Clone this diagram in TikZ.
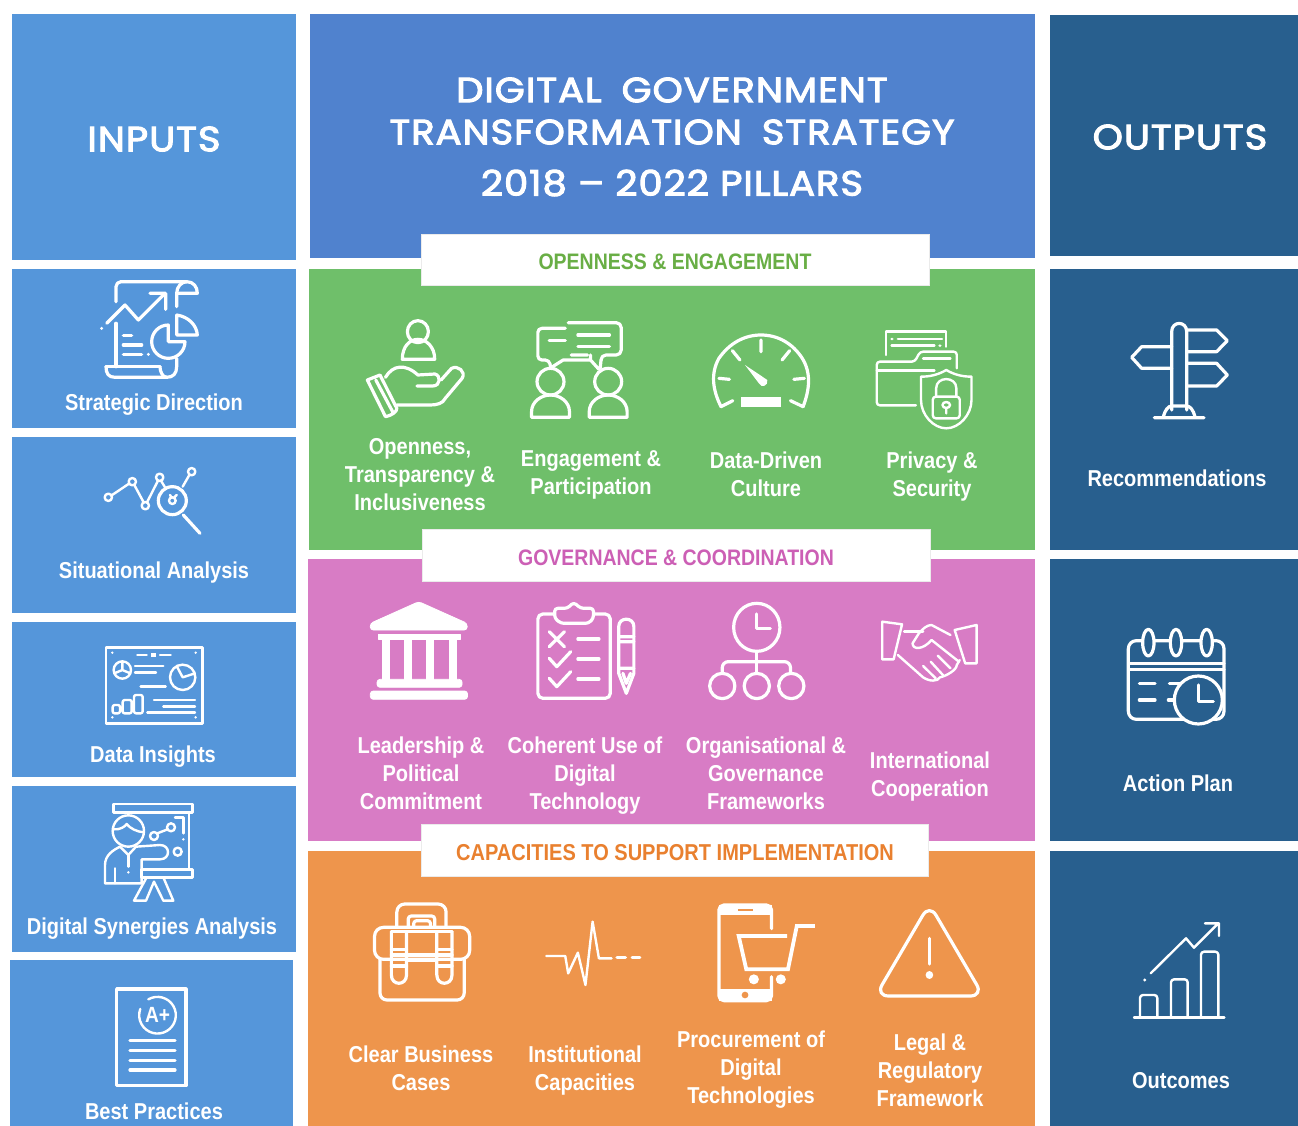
\documentclass[tikz,border=0pt]{standalone}
\usepackage{fontspec}
\newfontfamily\lblfont[FakeStretch=0.87]{Liberation Sans}
\newfontfamily\titlefont[FakeStretch=1.10,LetterSpace=2.8,FakeBold=3]{Poppins}
\definecolor{inblue}{HTML}{5596DA}
\definecolor{headblue}{HTML}{5082CE}
\definecolor{outblue}{HTML}{285F8E}
\definecolor{pillgreen}{HTML}{6FBF6A}
\definecolor{pillpink}{HTML}{D87CC5}
\definecolor{pillorange}{HTML}{EE954C}
\definecolor{txtgreen}{HTML}{69AE45}
\definecolor{txtpink}{HTML}{CC5FB5}
\definecolor{txtorange}{HTML}{E9802F}
\tikzset{
  lbl/.style={text=white,align=center,inner sep=0pt,font=\lblfont\bfseries\fontsize{23}{28}\selectfont},
  bigtitle/.style={text=white,inner sep=0pt,font=\titlefont\fontsize{35}{40}\selectfont},
  tabtext/.style={inner sep=0pt,font=\lblfont\bfseries\fontsize{22.4}{28}\selectfont},
  whitetab/.style={fill=white,draw=black!8,line width=.6pt},
  ico/.style={draw=white,line width=3.2pt,line cap=round,line join=round},
  thinico/.style={draw=white,line width=2.4pt,line cap=round,line join=round},
  solid white/.style={fill=white,draw=white,line width=.8pt,line join=round}
}
\begin{document}
\begin{tikzpicture}[x=1pt,y=-1pt]
\useasboundingbox (0,0) rectangle (1298,1126);

% left column
\fill[inblue] (12,14) rectangle (296,260);
\fill[inblue] (12,269) rectangle (296,428);
\fill[inblue] (12,437) rectangle (296,613);
\fill[inblue] (12,622) rectangle (296,777);
\fill[inblue] (12,786) rectangle (296,952);
\fill[inblue] (10,960) rectangle (293,1126);
% pillars
\fill[headblue] (310,14) rectangle (1035,258);
\fill[pillgreen] (309,269) rectangle (1035,550);
\fill[pillpink] (308,559) rectangle (1035,841);
\fill[pillorange] (308,851) rectangle (1035,1126);
% right column
\fill[outblue] (1050,15) rectangle (1298,256);
\fill[outblue] (1050,269) rectangle (1298,550);
\fill[outblue] (1050,559) rectangle (1298,841);
\fill[outblue] (1050,851) rectangle (1298,1126);
% tabs
\draw[whitetab] (421,234) rectangle (929,285);
\draw[whitetab] (422,529) rectangle (930,581);
\draw[whitetab] (421,824) rectangle (928,876);

\node[bigtitle] (inputs) at (154,139) {INPUTS};
\node[bigtitle] (outputs) at (1180,137) {OUTPUTS};
\node[bigtitle] (titleA) at (672,90) {DIGITAL\hspace{.25em} GOVERNMENT};
\node[bigtitle] (titleB) at (672,132) {TRANSFORMATION\hspace{.25em} STRATEGY};
\node[bigtitle] (titleC) at (672,183) {2018 – 2022 PILLARS};

\node[tabtext,text=txtgreen] (openness) at (675,262) {OPENNESS \& ENGAGEMENT};
\node[tabtext,text=txtpink] (governance) at (676,558) {GOVERNANCE \& COORDINATION};
\node[tabtext,text=txtorange,font=\lblfont\bfseries\fontsize{23}{28}\selectfont] (capacities) at (675,853) {CAPACITIES TO SUPPORT IMPLEMENTATION};

\node[lbl] (strategic) at (154,405) {Strategic Direction};
\node[lbl] (situational) at (154,573) {Situational Analysis};
\node[lbl] (insights) at (153,757) {Data Insights};
\node[lbl] (synergies) at (152,929) {Digital Synergies Analysis};
\node[lbl] (practices) at (154,1111) {Best Practices};

\node[lbl] (transparency) at (420,475) {Openness,\\Transparency \&\\Inclusiveness};
\node[lbl] (engagement) at (591,475) {Engagement \&\\Participation};
\node[lbl] (datadriven) at (766,474) {Data-Driven\\Culture};
\node[lbl] (privacy) at (932,477) {Privacy \&\\Security};

\node[lbl] (leadership) at (421,773) {Leadership \&\\Political\\Commitment};
\node[lbl] (coherent) at (585,776) {Coherent Use of\\Digital\\Technology};
\node[lbl] (organisational) at (766,773) {Organisational \&\\Governance\\Frameworks};
\node[lbl] (international) at (930,776.5) {International\\Cooperation};

\node[lbl] (business) at (421,1068) {Clear Business\\Cases};
\node[lbl] (institutional) at (585,1071) {Institutional\\Capacities};
\node[lbl] (procurement) at (751,1070) {Procurement of\\Digital\\Technologies};
\node[lbl] (legal) at (930,1070) {Legal \&\\Regulatory\\Framework};

\node[lbl] (recommendations) at (1177,478) {Recommendations};
\node[lbl] (actionplan) at (1178,783) {Action Plan};
\node[lbl] (outcomes) at (1181,1081) {Outcomes};

% icons of the left column
\begin{scope}[shift={(0,260)},scale=1/3]
\draw[ico,rounded corners=5pt] (348,125) -- (348,65) -- (560,65);
\draw[ico] (560,65) .. controls (580,65) and (592,80) .. (592,100) -- (530,100) -- (530,140);
\draw[ico] (530,100) .. controls (530,80) and (545,65) .. (560,65);
\draw[ico] (320,190) -- (375,135) -- (415,180) -- (495,100) (450,100) -- (497,100) -- (497,148);
\fill[white] (305,205) circle (5);
\draw[ico] (348,190) -- (348,320) (318,320) -- (480,320);
\draw[ico] (318,320) .. controls (318,340) and (325,352) .. (345,352) -- (500,352) .. controls (520,352) and (530,340) .. (530,320) -- (530,295);
\draw[ico] (480,320) .. controls (480,335) and (488,352) .. (500,352);
\draw[ico] (370,227) -- (395,227) (370,255) -- (425,255) (370,283) -- (425,283);
\fill[white] (445,283) circle (5);
\draw[ico] (505,195) arc[start angle=270,end angle=0,radius=50] -- (505,245) -- cycle;
\draw[ico] (530,165) -- (530,225) -- (592,225) .. controls (590,195) and (565,170) .. (530,165);

\draw[thinico] (325,712) circle (11) (397,665) circle (11) (436,737) circle (11) (479,652) circle (11) (575,635) circle (11);
\draw[thinico] (335,706) -- (387,671) (403,675) -- (431,727) (441,727) -- (474,662) (483,662) -- (495,682) (568,645) -- (548,680);
\draw[ico] (517,722) circle (42);
\draw[thinico] (517,722) circle (10) (510,705) -- (515,713) (530,705) -- (522,713);
\draw[ico] (550,765) -- (600,820);
\end{scope}

\begin{scope}[shift={(0,620)},scale=1/3]
\draw[thinico] (318,82) rectangle (607,310);
\foreach \dotx/\doty in {337/98,587/98,337/292,587/292}
  \fill[white] (\dotx,\doty) circle (4);
\draw[thinico] (412,105) -- (440,105) (480,105) -- (512,105);
\fill[white] (452,98) rectangle (468,112);
\draw[thinico] (367,150) circle (26) (367,150) -- (367,124) (367,150) -- (391,160) (367,150) -- (343,160);
\draw[thinico] (405,138) -- (490,138) (405,157) -- (468,157) (422,200) -- (497,200);
\draw[thinico] (548,172) circle (38) (530,138) -- (548,172) -- (585,160);
\draw[thinico,rounded corners=2pt] (338,255) rectangle (360,280) (368,240) rectangle (395,280) (402,225) rectangle (428,280);
\draw[thinico] (462,240) -- (585,240) (490,260) -- (585,260) (442,278) -- (585,278);

\draw[thinico] (340,552) rectangle (578,578) (425,748) rectangle (578,772);
\draw[thinico] (567,578) -- (567,748) (525,592) -- (550,592) -- (550,640);
\fill[white] (550,658) circle (4) (385,757) circle (4);
\draw[thinico] (462,648) circle (12) (513,622) circle (12) (533,695) circle (12) (472,640) -- (503,628);
\draw[thinico] (385,633) circle (47);
\draw[thinico] (340,628) .. controls (360,630) and (375,620) .. (380,612) .. controls (390,625) and (410,635) .. (431,637);
\draw[thinico] (315,790) -- (315,735) .. controls (315,705) and (340,690) .. (360,680) -- (385,705) -- (408,680) -- (480,675) .. controls (512,675) and (512,718) .. (480,718) -- (425,718) -- (425,790) -- cycle;
\draw[thinico] (385,705) -- (385,740) (345,745) -- (345,790);
\draw[thinico] (440,772) -- (402,842) -- (438,842) -- (462,785) -- (490,842) -- (520,842) -- (490,772);

\draw[ico] (350,1107) rectangle (558,1397);
\draw[thinico] (445,1138) arc[start angle=240,end angle=560,radius=55];
\node[text=white,inner sep=0pt,font=\lblfont\bfseries\fontsize{22}{24}\selectfont] (aplus) at (473,1186) {A+};
\foreach \liney in {1262,1292,1322,1350}
  \draw[ico] (390,\liney) -- (525,\liney);
\end{scope}

% green row
\begin{scope}[shift={(340,300)},xscale=.421,yscale=1/3]
\draw[ico] (185,95) ellipse (25 and 33);
\draw[ico] (148,178) .. controls (148,140) and (165,118) .. (185,118) .. controls (205,118) and (225,140) .. (225,178) -- cycle;
\draw[ico] (65,240) -- (95,225) -- (135,325) .. controls (135,335) and (125,345) .. (108,350) -- cycle (85,240) -- (125,335);
\draw[ico] (108,232) .. controls (125,195) and (155,190) .. (185,225) -- (225,222) .. controls (240,225) and (240,258) .. (220,258) -- (183,258);
\draw[ico] (240,240) -- (265,205) .. controls (280,195) and (300,215) .. (290,235) -- (250,295) .. controls (245,310) and (230,315) .. (215,315) -- (135,315);

\draw[ico] (500,245) ellipse (32 and 40) (637,245) ellipse (32 and 40);
\draw[ico] (455,352) -- (455,335) .. controls (455,305) and (478,285) .. (500,285) .. controls (522,285) and (545,305) .. (545,335) -- (545,352) -- cycle;
\draw[ico] (592,352) -- (592,335) .. controls (592,305) and (615,285) .. (637,285) .. controls (659,285) and (682,305) .. (682,335) -- (682,352) -- cycle;
\draw[ico,rounded corners=5pt] (542,68) -- (668,68) -- (668,165) -- (620,165) -- (620,180) (595,165) -- (542,165) -- cycle;
\draw[ico,rounded corners=4pt] (535,85) -- (470,85) -- (470,180) -- (497,180) -- (500,200);
\draw[ico] (505,200) -- (530,180) -- (595,180) -- (615,208) (620,180) -- (618,205) (595,165) -- (595,180);
\draw[ico] (565,105) -- (640,105) (565,140) -- (640,140) (497,122) -- (535,122);

\draw[ico] (905,320) .. controls (885,270) and (880,220) .. (900,175) .. controls (925,130) and (960,105) .. (1000,105) .. controls (1040,105) and (1075,130) .. (1098,175) .. controls (1120,220) and (1115,270) .. (1100,320);
\draw[ico] (1000,120) -- (1000,155) (932,152) -- (950,180) (1068,152) -- (1050,180) (900,235) -- (925,238) (1103,235) -- (1078,238) (905,320) -- (933,302) (1100,320) -- (1070,302);
\fill[white] (953,292) rectangle (1048,322);
\fill[white] (962,195) -- (1015,240) .. controls (1018,258) and (1000,265) .. (995,250) -- cycle;

\draw[thinico] (1297,165) -- (1297,95) -- (1440,95) -- (1440,140);
\draw[thinico] (1325,117) -- (1430,117) (1310,137) -- (1412,137);
\fill[white] (1311,117) circle (4) (1425,137) circle (4);
\draw[thinico,rounded corners=3pt] (1368,316) -- (1275,316) -- (1275,185) -- (1365,185) -- (1378,155) -- (1465,155) -- (1465,205);
\draw[thinico] (1275,212) -- (1412,212) (1385,175) -- (1450,175);
\draw[thinico] (1440,210) .. controls (1420,225) and (1400,230) .. (1380,230) -- (1380,300) .. controls (1380,345) and (1410,385) .. (1440,385) .. controls (1470,385) and (1500,345) .. (1500,300) -- (1500,230) .. controls (1480,230) and (1460,225) .. (1440,210) -- cycle;
\draw[thinico,rounded corners=3pt] (1408,290) rectangle (1472,355);
\draw[thinico] (1416,290) -- (1416,265) .. controls (1416,228) and (1464,228) .. (1464,265) -- (1464,290);
\draw[thinico] (1440,315) ellipse (9 and 9) (1440,325) -- (1440,340);
\end{scope}

% pink row
\begin{scope}[shift={(340,590)},xscale=.421,yscale=1/3]
\draw[solid white,rounded corners=3pt] (187,35) -- (302,100) -- (302,120) -- (72,120) -- (72,100) -- cycle;
\draw[solid white] (92,133) rectangle (285,147);
\foreach \colx in {100,152,205,258}
  \fill[white] (\colx,147) rectangle ++(19,122);
\draw[solid white,rounded corners=3pt] (88,268) rectangle (290,292);
\draw[solid white,rounded corners=3pt] (72,303) rectangle (303,328);

\draw[ico,rounded corners=5pt] (470,72) rectangle (642,325);
\draw[ico,fill=pillpink,rounded corners=3pt] (510,85) -- (510,55) -- (540,55) -- (555,37) -- (572,55) -- (602,55) -- (602,85) -- (590,100) -- (525,100) -- cycle;
\draw[ico] (497,125) -- (533,170) (533,125) -- (497,170);
\draw[ico] (497,205) -- (515,230) -- (548,185) (497,265) -- (515,290) -- (548,245);
\draw[ico] (565,147) -- (615,147) (565,207) -- (615,207) (565,267) -- (615,267);
\draw[ico] (662,250) -- (662,110) .. controls (662,80) and (698,80) .. (698,110) -- (698,250) -- (680,310) -- cycle;
\draw[ico] (662,140) -- (698,140) (662,155) -- (698,155) (662,235) -- (698,235) (672,250) -- (680,280) -- (690,250);

\draw[ico] (990,112) ellipse (55 and 72);
\draw[ico] (990,72) -- (990,115) -- (1022,115);
\draw[ico] (990,185) -- (990,245);
\draw[ico,rounded corners=6pt] (908,245) -- (908,215) -- (1070,215) -- (1070,245);
\foreach \ringx in {908,990,1072}
  \draw[ico] (\ringx,288) ellipse (30 and 38);

\draw[thinico] (1288,95) -- (1335,103) -- (1315,208) -- (1288,208) -- cycle;
\draw[thinico] (1512,105) -- (1460,120) -- (1485,220) -- (1512,220) -- cycle;
\draw[thinico] (1340,125) -- (1385,125);
\draw[thinico] (1450,135) -- (1405,105) .. controls (1395,105) and (1385,115) .. (1375,130) -- (1360,160) .. controls (1360,180) and (1385,180) .. (1405,150) -- (1470,215);
\draw[thinico] (1325,195) -- (1385,262) .. controls (1400,275) and (1420,275) .. (1425,262) .. controls (1440,258) and (1465,240) .. (1465,225) -- (1472,210);
\draw[thinico] (1385,228) -- (1415,265) (1403,215) -- (1432,255) (1420,197) -- (1450,235);
\end{scope}

% orange row
\begin{scope}[shift={(340,890)},xscale=.421,yscale=1/3]
\draw[ico,rounded corners=7pt] (95,208) -- (95,330) -- (295,330) -- (295,208);
\draw[ico,rounded corners=9pt] (82,208) rectangle (308,112);
\draw[ico,rounded corners=8pt] (135,110) -- (135,42) -- (252,42) -- (252,110);
\draw[ico,rounded corners=3pt] (162,110) -- (162,78) -- (225,78) -- (225,110) (175,110) -- (175,92) -- (215,92) -- (215,110);
\draw[ico] (122,125) -- (122,255) .. controls (122,288) and (158,288) .. (158,255) -- (158,125);
\draw[ico] (230,125) -- (230,255) .. controls (230,288) and (266,288) .. (266,255) -- (266,125);
\draw[ico] (122,125) -- (266,125) (158,195) -- (230,195) (158,212) -- (230,212) (122,178) -- (158,178) (230,178) -- (266,178) (122,195) -- (158,195) (230,195) -- (266,195) (122,228) -- (158,228) (230,228) -- (266,228);

\draw[thinico] (490,198) -- (535,198) -- (542,250) -- (565,188) -- (583,285) -- (600,95) -- (615,205) -- (645,205);
\draw[ico] (658,202) -- (678,202) (694,202) -- (712,202);

\draw[ico,rounded corners=5pt] (1025,116) -- (1025,45) -- (900,45) -- (900,332) -- (1025,332) -- (1025,260);
\fill[white] (900,45) rectangle (1025,75);
\fill[white] (900,297) rectangle (1025,332);
\draw[pillorange,line width=1.5pt] (945,60) -- (980,60);
\fill[pillorange] (962,315) ellipse (8 and 10);
\draw[draw=white,line width=3.8pt] (1062,138) -- (947,138) -- (965,238) -- (1064,238) -- (1085,108) -- (1128,108);
\fill[white] (983,268) ellipse (12 and 15) (1047,268) ellipse (12 and 15);

\draw[ico,rounded corners=13pt] (1400,42) -- (1528,318) -- (1272,318) -- cycle;
\draw[ico] (1400,145) -- (1400,222);
\fill[white] (1400,255) ellipse (9 and 12);
\end{scope}

% icons of the right column
\begin{scope}[shift={(1100,300)},scale=1/3]
\draw[ico] (215,330) -- (215,95) .. controls (215,62) and (260,62) .. (260,95) -- (260,330);
\draw[ico] (215,140) -- (125,140) -- (95,172) -- (125,205) -- (215,205);
\draw[ico] (260,90) -- (350,90) -- (382,122) -- (350,155) -- (260,155);
\draw[ico] (260,190) -- (350,190) -- (382,225) -- (350,258) -- (260,258);
\draw[ico] (163,353) -- (312,353) (190,350) .. controls (195,330) and (205,318) .. (215,318) -- (260,318) .. controls (270,318) and (280,330) .. (285,350);

\draw[ico,rounded corners=8pt] (85,1022) rectangle (372,1258);
\draw[ico] (88,1090) -- (372,1090) (88,1108) -- (372,1108);
\foreach \ringx in {145,228,320}
  \draw[ico,fill=outblue] (\ringx,1028) ellipse (17 and 40);
\draw[ico] (118,1150) -- (165,1150) (118,1200) -- (165,1200) (208,1150) -- (240,1150) (205,1200) -- (225,1200);
\draw[ico,fill=outblue] (295,1200) circle (72);
\draw[ico] (295,1155) -- (295,1205) -- (340,1205);
\end{scope}

\begin{scope}[shift={(1040,900)},scale=1/3]
\draw[thinico] (282,353) -- (553,353);
\draw[thinico,rounded corners=3pt] (300,353) -- (300,285) -- (352,285) -- (352,353) (393,353) -- (393,238) -- (443,238) -- (443,353) (483,353) -- (483,155) -- (535,155) -- (535,353);
\draw[thinico] (332,220) -- (438,115) -- (462,143) -- (535,70) (495,70) -- (537,70) -- (537,108);
\fill[white] (314,240) circle (5);
\end{scope}
\end{tikzpicture}
\end{document}
